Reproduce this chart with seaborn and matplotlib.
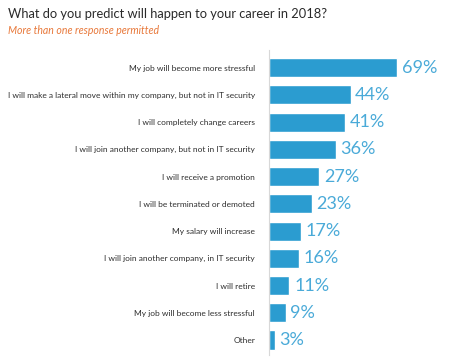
import matplotlib
matplotlib.use("Agg")
import matplotlib.pyplot as plt
import seaborn as sns
import pandas as pd

categories = [
    "My job will become more stressful",
    "I will make a lateral move within my company, but not in IT security",
    "I will completely change careers",
    "I will join another company, but not in IT security",
    "I will receive a promotion",
    "I will be terminated or demoted",
    "My salary will increase",
    "I will join another company, in IT security",
    "I will retire",
    "My job will become less stressful",
    "Other",
]
values = [69, 44, 41, 36, 27, 23, 17, 16, 11, 9, 3]

df = pd.DataFrame({"cat": categories, "val": values})

sns.set_theme(style="white")
plt.rcParams["font.family"] = ["Lato", "DejaVu Sans"]

fig = plt.figure(figsize=(4.5, 3.6), dpi=100)
ax = fig.add_axes([269 / 450, 1 - 355 / 360, 1 - 269 / 450, (355 - 50) / 360])

bar_color = "#2b9cd0"
sns.barplot(data=df, x="val", y="cat", color=bar_color, saturation=1,
            width=0.7, ax=ax, orient="h")

ax.set_xlim(0, 97.6)
ax.set_ylim(10.55, -0.65)
ax.set_xlabel("")
ax.set_ylabel("")
ax.set_xticks([])
for s in ["top", "right", "bottom"]:
    ax.spines[s].set_visible(False)
ax.spines["left"].set_color("#d8d8d8")
ax.spines["left"].set_linewidth(0.8)
ax.tick_params(axis="y", length=0, pad=10, labelsize=6.0, labelcolor="#2e2e2e")

for i, v in enumerate(values):
    ax.text(v + 2.5, i, f"{v}%", va="center", ha="left", fontsize=13,
            color="#4aaad8")

fig.text(8 / 450, 1 - 14 / 360, "What do you predict will happen to your career in 2018?",
         fontsize=9.3, color="#2a2a2a", va="center", ha="left")
fig.text(8 / 450, 1 - 30 / 360, "More than one response permitted",
         fontsize=7.6, color="#e8783a", style="italic", va="center", ha="left")

fig.savefig("out.png", dpi=100)
